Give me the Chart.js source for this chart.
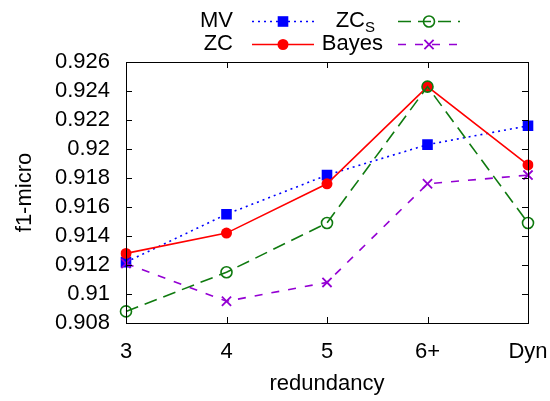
<!DOCTYPE html>
<html>
<head>
<meta charset="utf-8">
<script src="https://cdn.jsdelivr.net/npm/chart.js@4"></script>
<style>
  html, body { margin: 0; padding: 0; background: #fff; }
  #wrap { width: 550px; height: 401px; }
</style>
</head>
<body>
<div id="wrap"><canvas id="chart" width="550" height="401"></canvas></div>
<script>
// values
var categories = ['3', '4', '5', '6+', 'Dyn'];
var mvValues    = [0.9122, 0.9155, 0.9182, 0.9203, 0.9216];
var zcValues    = [0.9128, 0.9142, 0.9176, 0.9243, 0.9189];
var zcsValues   = [0.9088, 0.9115, 0.9149, 0.9243, 0.9149];
var bayesValues = [0.9121, 0.9095, 0.9108, 0.9176, 0.9182];
var yTicks = [0.908, 0.91, 0.912, 0.914, 0.916, 0.918, 0.92, 0.922, 0.924, 0.926];

var FONT = 'Liberation Sans, Arial, sans-serif';

var datasets = [
    { label: 'MV', data: mvValues, borderColor: '#0000ff', backgroundColor: '#0000ff',
      borderWidth: 1.6, borderDash: [2, 4], pointStyle: 'rect', pointRadius: 7.5,
      pointBorderWidth: 0, order: 3 },
    { label: 'ZC', data: zcValues, borderColor: '#ff0000', backgroundColor: '#ff0000',
      borderWidth: 1.6, pointStyle: 'circle', pointRadius: 5.5, pointBorderWidth: 0, order: 2 },
    { label: 'ZCS', data: zcsValues, borderColor: '#0f7a0f', backgroundColor: 'rgba(0,0,0,0)',
      borderWidth: 1.6, borderDash: [13, 7], pointStyle: 'circle', pointRadius: 5.5,
      pointBorderWidth: 1.6, order: 1 },
    { label: 'Bayes', data: bayesValues, borderColor: '#9400d3', backgroundColor: '#9400d3',
      borderWidth: 1.6, borderDash: [8, 9], pointStyle: 'crossRot', pointRadius: 6.5,
      pointBorderWidth: 1.8, order: 0 }
];

// gnuplot-like frame with inward ticks and a two-column key on top
var framePlugin = {
    id: 'frame',
    afterDraw: function(chart) {
        var ctx = chart.ctx;
        var a = chart.chartArea;
        var xs = chart.scales.x, ys = chart.scales.y;
        ctx.save();
        ctx.strokeStyle = '#000';
        ctx.lineWidth = 1;
        ctx.setLineDash([]);
        ctx.strokeRect(a.left + 0.5, a.top + 0.5, a.right - a.left, a.bottom - a.top);
        var t = 6;
        ctx.beginPath();
        yTicks.forEach(function(v) {
            var y = Math.round(ys.getPixelForValue(v)) + 0.5;
            ctx.moveTo(a.left, y); ctx.lineTo(a.left + t, y);
            ctx.moveTo(a.right, y); ctx.lineTo(a.right - t, y);
        });
        categories.forEach(function(c, i) {
            var x = Math.round(xs.getPixelForValue(i)) + 0.5;
            ctx.moveTo(x, a.bottom); ctx.lineTo(x, a.bottom - t);
            ctx.moveTo(x, a.top); ctx.lineTo(x, a.top + t);
        });
        ctx.stroke();

        // key
        var key = [
            { ds: 0, tx: 233, lx: 252, y: 21 },
            { ds: 2, tx: 375, lx: 398, y: 21 },
            { ds: 1, tx: 233, lx: 252, y: 44 },
            { ds: 3, tx: 383, lx: 398, y: 44 }
        ];
        key.forEach(function(k) {
            var d = chart.data.datasets[k.ds];
            ctx.fillStyle = '#000';
            ctx.textBaseline = 'middle';
            ctx.textAlign = 'right';
            if (d.label === 'ZCS') {
                ctx.font = '15px ' + FONT;
                var sw = ctx.measureText('S').width;
                ctx.fillText('S', k.tx, k.y + 7);
                ctx.font = '22px ' + FONT;
                ctx.fillText('ZC', k.tx - sw, k.y);
            } else {
                ctx.font = '22px ' + FONT;
                ctx.fillText(d.label, k.tx, k.y);
            }
            ctx.strokeStyle = d.borderColor;
            ctx.lineWidth = d.borderWidth;
            ctx.setLineDash(d.borderDash || []);
            ctx.beginPath();
            ctx.moveTo(k.lx, k.y + 0.5);
            ctx.lineTo(k.lx + 62, k.y + 0.5);
            ctx.stroke();
            ctx.setLineDash([]);
            ctx.fillStyle = d.backgroundColor;
            ctx.strokeStyle = d.borderColor;
            ctx.lineWidth = d.pointBorderWidth || 1;
            Chart.helpers.drawPoint(ctx, {
                pointStyle: d.pointStyle, radius: d.pointRadius, rotation: 0,
                borderWidth: d.pointBorderWidth
            }, k.lx + 31, k.y + 0.5);
        });
        ctx.restore();
    }
};

new Chart(document.getElementById('chart').getContext('2d'), {
    type: 'line',
    data: { labels: categories, datasets: datasets },
    options: {
        responsive: false,
        animation: false,
        layout: { padding: { top: 62, right: 22, left: 0, bottom: 0 } },
        plugins: { legend: { display: false }, tooltip: { enabled: false } },
        scales: {
            x: {
                offset: false,
                grid: { display: false },
                border: { display: false },
                ticks: { color: '#000', font: { family: FONT, size: 22 }, padding: 8, maxRotation: 0 },
                title: { display: true, text: 'redundancy', color: '#000',
                         font: { family: FONT, size: 22 }, padding: { top: 4 } },
                afterFit: function(s) { s.height = 78; s.paddingRight = 0; s.paddingLeft = 0; }
            },
            y: {
                min: 0.908, max: 0.926,
                afterBuildTicks: function(s) { s.ticks = yTicks.map(function(v) { return { value: v }; }); },
                grid: { display: false },
                border: { display: false },
                ticks: { color: '#000', font: { family: FONT, size: 22 }, padding: 8, autoSkip: false,
                         callback: function(v) { return String(+v.toFixed(3)); } },
                title: { display: true, text: 'f1-micro', color: '#000',
                         font: { family: FONT, size: 22 }, padding: { top: 12 } },
                afterFit: function(s) { s.width = 126; }
            }
        }
    },
    plugins: [framePlugin]
});
</script>
</body>
</html>
